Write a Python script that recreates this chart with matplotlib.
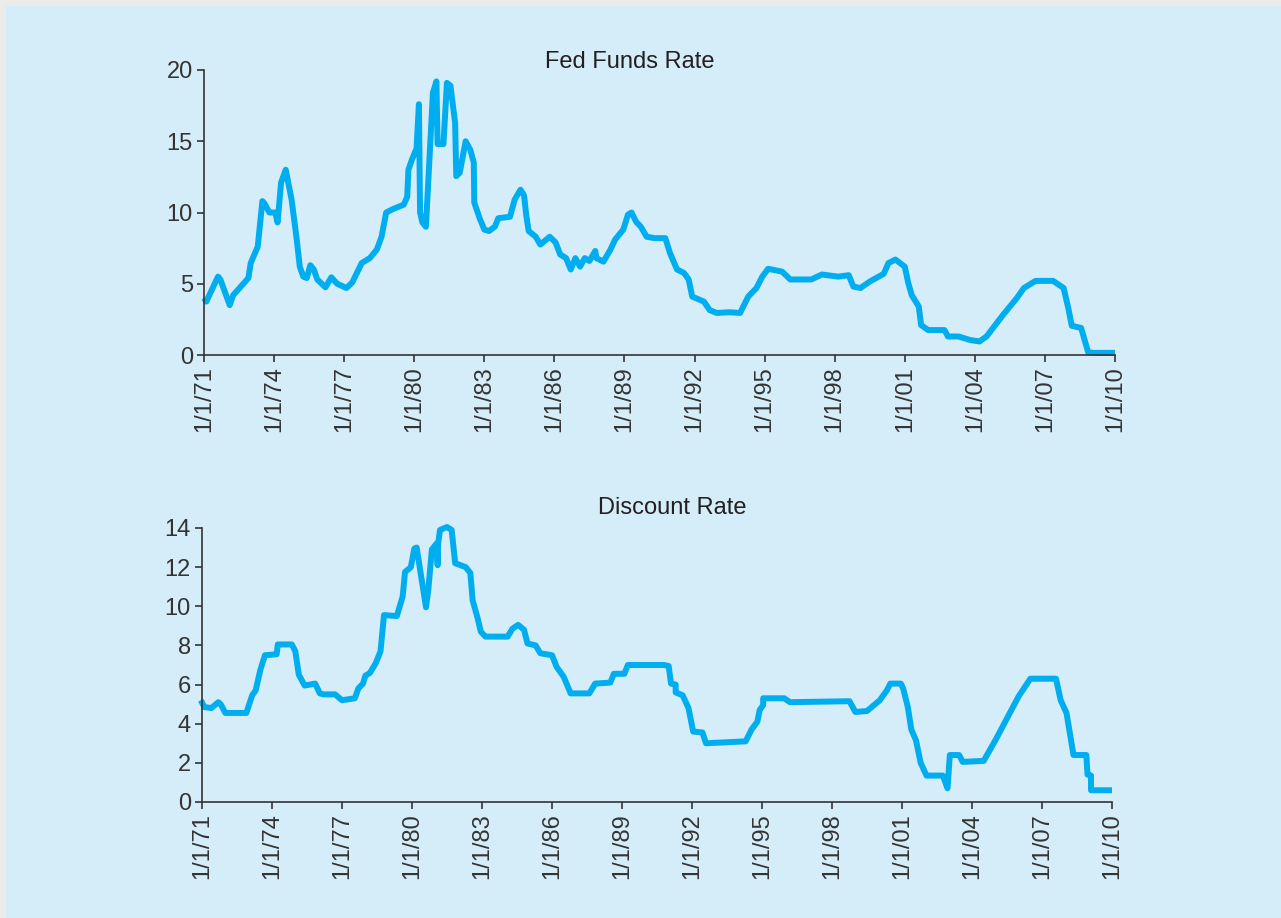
import matplotlib
matplotlib.use("Agg")
import matplotlib.pyplot as plt
from matplotlib.patches import Rectangle

plt.rcParams["font.family"] = ["Liberation Sans", "DejaVu Sans"]

# fed funds rate (decimal year, percent)
ff_years = [1971.0, 1971.1, 1971.6, 1971.7, 1972.1, 1972.25, 1972.9, 1973.0, 1973.3, 1973.5,
            1973.6, 1973.8, 1974.05, 1974.15, 1974.3, 1974.5, 1974.75, 1974.97, 1975.1, 1975.25,
            1975.4, 1975.55, 1975.7, 1975.85, 1976.2, 1976.45, 1976.7, 1977.1, 1977.35, 1977.75,
            1978.1, 1978.4, 1978.6, 1978.8, 1979.1, 1979.55, 1979.7, 1979.75, 1979.9, 1980.1,
            1980.2, 1980.25, 1980.35, 1980.5, 1980.65, 1980.8, 1980.95, 1981.0, 1981.25, 1981.4,
            1981.55, 1981.75, 1981.8, 1981.95, 1982.2, 1982.4, 1982.55, 1982.57, 1982.8, 1983.0,
            1983.2, 1983.45, 1983.6, 1984.1, 1984.3, 1984.55, 1984.7, 1984.8, 1984.9, 1985.2,
            1985.4, 1985.8, 1986.05, 1986.25, 1986.5, 1986.7, 1986.9, 1987.1, 1987.3, 1987.5,
            1987.75, 1987.8, 1988.1, 1988.4, 1988.6, 1988.95, 1989.15, 1989.3, 1989.5, 1989.7,
            1989.95, 1990.3, 1990.75, 1990.95, 1991.25, 1991.55, 1991.75, 1991.9, 1992.4, 1992.65,
            1992.95, 1993.5, 1993.95, 1994.3, 1994.65, 1994.9, 1995.15, 1995.75, 1996.1, 1997.0,
            1997.45, 1998.15, 1998.6, 1998.8, 1999.1, 1999.5, 2000.1, 2000.3, 2000.6, 2001.0,
            2001.15, 2001.3, 2001.6, 2001.7, 2002.0, 2002.7, 2002.85, 2003.3, 2003.8, 2004.2,
            2004.5, 2005.2, 2005.8, 2006.1, 2006.6, 2007.35, 2007.8, 2008.0, 2008.15, 2008.55,
            2008.7, 2008.85, 2009.05, 2010.0]
ff_rate = [4.0, 3.75, 5.5, 5.3, 3.5, 4.2, 5.4, 6.45, 7.6, 10.8,
           10.6, 10.0, 10.0, 9.3, 12.1, 13.0, 10.9, 8.1, 6.2, 5.5,
           5.4, 6.3, 6.0, 5.3, 4.75, 5.45, 5.0, 4.7, 5.1, 6.45,
           6.8, 7.4, 8.3, 10.0, 10.25, 10.55, 11.1, 13.0, 13.7, 14.5,
           17.6, 10.0, 9.3, 9.0, 13.7, 18.4, 19.2, 14.8, 14.8, 19.1,
           18.9, 16.3, 12.55, 12.8, 15.0, 14.4, 13.5, 10.7, 9.6, 8.8,
           8.7, 9.0, 9.6, 9.7, 10.9, 11.6, 11.2, 9.75, 8.7, 8.3,
           7.75, 8.3, 7.9, 7.05, 6.8, 6.0, 6.8, 6.2, 6.8, 6.6,
           7.3, 6.8, 6.55, 7.4, 8.1, 8.8, 9.85, 10.0, 9.35, 9.0,
           8.3, 8.2, 8.2, 7.15, 6.0, 5.75, 5.3, 4.1, 3.75, 3.15,
           2.95, 3.0, 2.95, 4.1, 4.7, 5.5, 6.05, 5.85, 5.3, 5.3,
           5.65, 5.5, 5.6, 4.8, 4.7, 5.15, 5.7, 6.45, 6.7, 6.2,
           5.05, 4.2, 3.4, 2.1, 1.75, 1.75, 1.3, 1.3, 1.05, 0.95,
           1.3, 2.8, 4.0, 4.7, 5.2, 5.2, 4.7, 3.3, 2.05, 1.9,
           1.05, 0.2, 0.15, 0.15]

# discount rate (decimal year, percent)
dr_years = [1970.95, 1971.1, 1971.4, 1971.7, 1971.8, 1972.0, 1972.9, 1973.15, 1973.3, 1973.5,
            1973.7, 1974.2, 1974.25, 1974.85, 1975.0, 1975.15, 1975.4, 1975.85, 1976.05, 1976.2,
            1976.7, 1977.0, 1977.55, 1977.7, 1977.9, 1978.0, 1978.2, 1978.45, 1978.65, 1978.8,
            1979.35, 1979.6, 1979.7, 1979.95, 1980.1, 1980.2, 1980.35, 1980.6, 1980.7, 1980.85,
            1981.05, 1981.1, 1981.12, 1981.2, 1981.5, 1981.7, 1981.85, 1982.3, 1982.5, 1982.6,
            1982.8, 1982.95, 1983.15, 1983.5, 1984.1, 1984.3, 1984.55, 1984.8, 1984.95, 1985.3,
            1985.5, 1986.0, 1986.2, 1986.5, 1986.8, 1987.6, 1987.85, 1988.5, 1988.65, 1989.1,
            1989.25, 1990.8, 1991.0, 1991.1, 1991.3, 1991.3, 1991.6, 1991.85, 1992.05, 1992.45,
            1992.6, 1994.3, 1994.55, 1994.8, 1994.9, 1995.05, 1995.05, 1995.95, 1996.2, 1998.75,
            1999.0, 1999.5, 1999.75, 2000.05, 2000.35, 2000.5, 2000.95, 2001.05, 2001.25, 2001.4,
            2001.6, 2001.8, 2002.05, 2002.75, 2002.95, 2003.05, 2003.45, 2003.6, 2004.5, 2005.0,
            2006.0, 2006.5, 2007.6, 2007.8, 2008.05, 2008.35, 2008.9, 2008.95, 2009.1, 2009.1,
            2010.0]
dr_rate = [5.2, 4.85, 4.8, 5.1, 5.0, 4.55, 4.55, 5.45, 5.7, 6.75,
           7.5, 7.55, 8.05, 8.05, 7.7, 6.5, 5.95, 6.05, 5.55, 5.5,
           5.5, 5.2, 5.3, 5.8, 6.05, 6.45, 6.6, 7.1, 7.7, 9.55,
           9.5, 10.5, 11.75, 12.0, 12.95, 13.0, 11.85, 9.95, 10.85, 12.9,
           13.2, 12.1, 13.2, 13.9, 14.05, 13.9, 12.2, 12.0, 11.7, 10.3,
           9.45, 8.7, 8.45, 8.45, 8.45, 8.85, 9.05, 8.8, 8.1, 8.0,
           7.6, 7.5, 6.9, 6.4, 5.55, 5.55, 6.05, 6.1, 6.55, 6.55,
           7.0, 7.0, 6.95, 6.05, 6.0, 5.6, 5.45, 4.8, 3.6, 3.55,
           3.0, 3.1, 3.7, 4.1, 4.7, 4.95, 5.3, 5.3, 5.1, 5.15,
           4.6, 4.65, 4.9, 5.2, 5.7, 6.05, 6.05, 5.8, 4.85, 3.7,
           3.15, 2.0, 1.35, 1.35, 0.7, 2.4, 2.4, 2.05, 2.1, 3.15,
           5.4, 6.3, 6.3, 5.2, 4.55, 2.4, 2.4, 1.4, 1.35, 0.6,
           0.6]

tick_years = list(range(1971, 2011, 3))
tick_labels = ["1/1/%02d" % (y % 100) for y in tick_years]

W, H = 1281, 918
line_color = "#00aeef"
bg_blue = "#d5edf9"
text_color = "#231f20"

fig = plt.figure(figsize=(W / 100, H / 100), dpi=100)
fig.patch.set_facecolor("#ebebeb")
fig.patches.append(Rectangle((6 / W, 0), 1 - 6 / W, 1 - 6 / H, transform=fig.transFigure,
                             facecolor=bg_blue, edgecolor="none", zorder=-10))


def make_axes(rect, years, rate, ymax, ystep, title, title_xy):
    ax = fig.add_axes(rect)
    ax.set_facecolor("none")
    ax.plot(years, rate, color=line_color, lw=4.3, solid_joinstyle="round",
            solid_capstyle="butt", clip_on=False)
    ax.set_xlim(1971, 2010)
    ax.set_ylim(0, ymax)
    ax.set_xticks(tick_years)
    ax.set_xticklabels(tick_labels, rotation=90, fontsize=17, color=text_color)
    ax.set_yticks(range(0, ymax + 1, ystep))
    ax.tick_params(axis="y", labelsize=17, labelcolor=text_color)
    ax.tick_params(colors="#333333", length=5, width=1.2, pad=3)
    for s in ["top", "right"]:
        ax.spines[s].set_visible(False)
    for s in ["left", "bottom"]:
        ax.spines[s].set_color("#333333")
        ax.spines[s].set_linewidth(1.2)
    fig.text(title_xy[0] / W, 1 - title_xy[1] / H, title, ha="center", va="center",
             fontsize=17, color=text_color)
    return ax


make_axes([204 / W, 1 - 355 / H, (1115 - 204) / W, (355 - 70) / H],
          ff_years, ff_rate, 20, 5, "Fed Funds Rate", (630, 62))
make_axes([202 / W, 1 - 802 / H, (1112 - 202) / W, (802 - 528) / H],
          dr_years, dr_rate, 14, 2, "Discount Rate", (672, 508))

fig.savefig("out.png", dpi=100, facecolor=fig.get_facecolor())
